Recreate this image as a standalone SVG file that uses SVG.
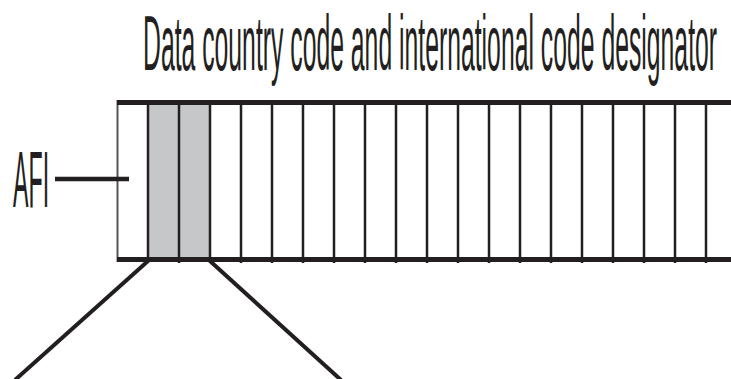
<svg xmlns="http://www.w3.org/2000/svg" width="731" height="379" viewBox="0 0 731 379">
<style>
.t{font-family:"Liberation Sans",Arial,sans-serif;fill:#231f20;}
.bar{stroke:#231f20;stroke-width:5;fill:none;}
.v{stroke:#231f20;stroke-width:2.5;}
.ln{stroke:#231f20;stroke-width:4;fill:none;}
</style>
<rect width="731" height="379" fill="#ffffff"/>
<g id="title">
<text class="t" font-size="78" transform="translate(143,70) scale(0.3175,1)">Data country code and international code designator</text>
</g>
<g id="field">
<rect x="148" y="104" width="62" height="154" fill="#c6c7c9"/>
<g class="v">
<line x1="117.5" y1="100" x2="117.5" y2="262" stroke="#555" stroke-width="2"/>
<line x1="148" y1="100" x2="148" y2="263"/>
<line x1="179" y1="100" x2="179" y2="263"/>
<line x1="210" y1="100" x2="210" y2="263"/>
<line x1="241" y1="100" x2="241" y2="263"/>
<line x1="272" y1="100" x2="272" y2="263"/>
<line x1="303" y1="100" x2="303" y2="263"/>
<line x1="334" y1="100" x2="334" y2="263"/>
<line x1="365" y1="100" x2="365" y2="263"/>
<line x1="396" y1="100" x2="396" y2="263"/>
<line x1="427" y1="100" x2="427" y2="263"/>
<line x1="458" y1="100" x2="458" y2="263"/>
<line x1="489" y1="100" x2="489" y2="263"/>
<line x1="520" y1="100" x2="520" y2="263"/>
<line x1="551" y1="100" x2="551" y2="263"/>
<line x1="582" y1="100" x2="582" y2="263"/>
<line x1="613" y1="100" x2="613" y2="263"/>
<line x1="644" y1="100" x2="644" y2="263"/>
<line x1="675" y1="100" x2="675" y2="263"/>
<line x1="706" y1="100" x2="706" y2="263"/>
</g>
<line class="bar" x1="117" y1="102.5" x2="731" y2="102.5"/>
<line class="bar" x1="117" y1="259.5" x2="731" y2="259.5"/>
</g>
<g id="afi">
<text class="t" font-size="80" transform="translate(13,207) scale(0.29,1)">AFI</text>
</g>
<g id="connectors">
<line class="ln" x1="55" y1="179" x2="129" y2="179" style="stroke-width:4.5"/>
<line class="ln" x1="148" y1="261" x2="15" y2="380"/>
<line class="ln" x1="210" y1="261" x2="341" y2="380"/>
</g>
</svg>
